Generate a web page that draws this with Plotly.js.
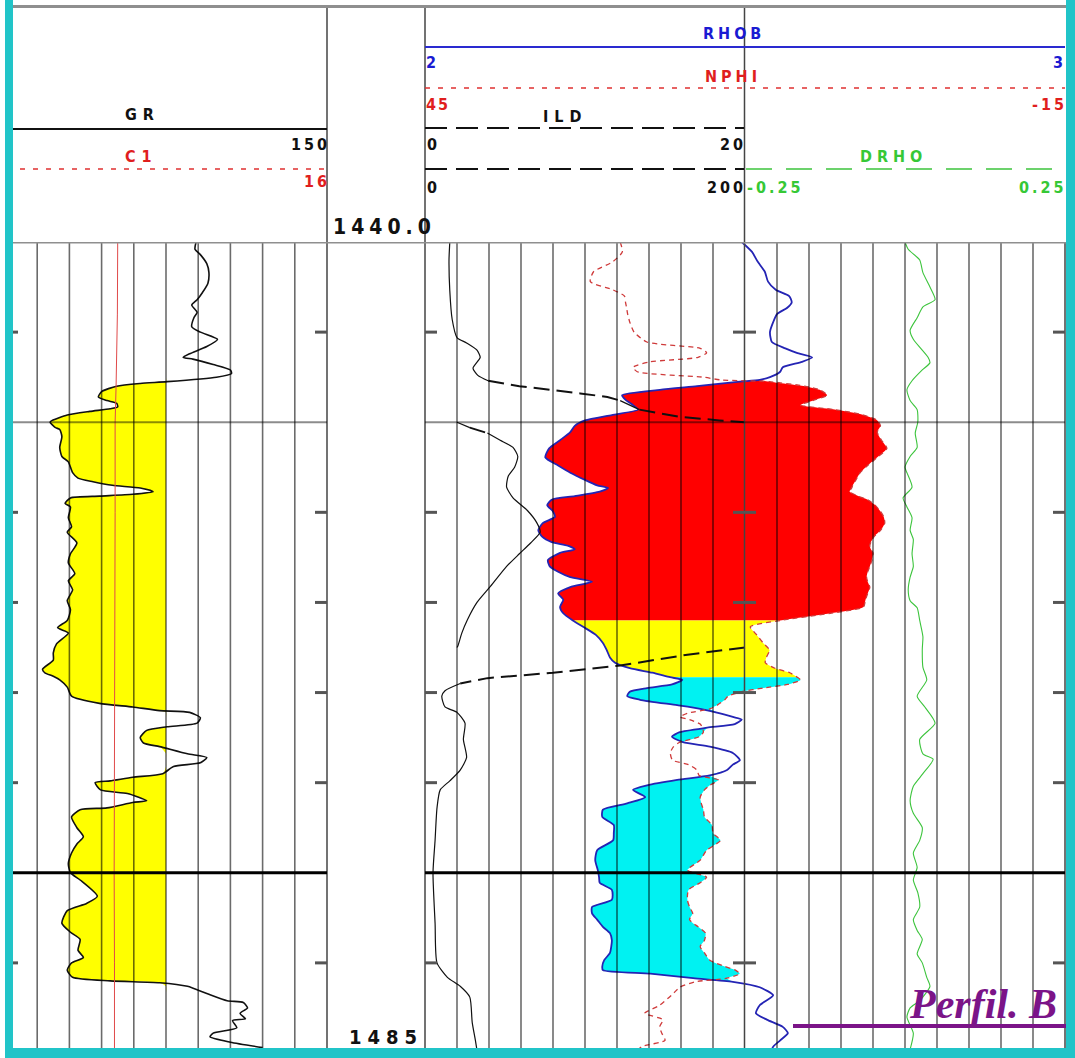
<!DOCTYPE html>
<html>
<head>
<meta charset="utf-8">
<script src="https://cdn.plot.ly/plotly-3.0.1.min.js"></script>
<style>
  html, body { margin: 0; padding: 0; background: #ffffff; }
  #wrap { position: relative; width: 1075px; height: 1058px; overflow: hidden; }
  #plot { position: absolute; left: 0; top: 0; width: 1075px; height: 1058px; }
  .frame { position: absolute; background: #21c4c8; }
</style>
</head>
<body>
<div id="wrap">
  <div id="plot"></div>
  <div class="frame" style="left:5px;top:0;width:8px;height:1058px"></div>
  <div class="frame" style="left:1066px;top:0;width:9px;height:1058px"></div>
  <div class="frame" style="left:5px;top:1048px;width:1070px;height:10px"></div>
</div>
<script>
// ---------------- log data (depth in m) ----------------
const DEPTH_RANGE = [1440, 1485];

// Gamma ray (API) and caliper (in)
const grDepth = [1440.0,1440.4,1440.7,1441.2,1441.7,1442.3,1442.8,1443.2,1443.5,1443.9,
  1444.2,1444.7,1445.0,1445.4,1445.8,1446.2,1446.4,1446.5,1446.8,1447.1,
  1447.3,1447.5,1447.75,1447.85,1448.0,1448.3,1448.6,1448.8,1448.95,1449.15,
  1449.25,1449.4,1449.6,1449.9,1450.0,1450.3,1450.4,1450.8,1451.4,1451.9,
  1452.2,1452.8,1453.1,1453.3,1453.5,1453.65,1453.85,1454.0,1454.1,1454.2,
  1454.5,1454.7,1455.3,1455.8,1456.1,1456.7,1457.3,1457.8,1458.4,1458.8,
  1459.3,1459.9,1460.4,1461.0,1461.4,1461.7,1462.3,1462.8,1463.2,1463.7,
  1463.9,1464.1,1464.3,1464.7,1465.2,1465.6,1465.8,1466.0,1466.1,1466.4,
  1466.7,1466.9,1467.1,1467.5,1467.8,1468.0,1468.4,1468.6,1468.9,1469.1,
  1469.5,1469.7,1469.9,1470.0,1470.4,1470.6,1471.0,1471.1,1471.4,1471.5,
  1471.9,1472.5,1473.0,1473.4,1473.9,1474.5,1475.0,1475.4,1476.3,1476.7,
  1477.1,1477.8,1478.3,1478.7,1479.3,1479.7,1480.0,1480.4,1480.8,1481.0,
  1481.1,1481.3,1481.7,1482.1,1482.2,1482.5,1482.8,1483.1,1483.2,1483.6,
  1483.9,1484.1,1484.4,1484.7];
const grValue = [89,88.5,91,94,95,94.5,92,89.5,87,89.5,
  88,87,91,99,94,86,83,87.5,97,105,
  105.5,98.5,75.5,63,52,45,43.5,47.5,52,52.5,
  49,39.5,29,22,21,23.5,25.5,26.5,25.5,26.5,
  29.5,31.5,34,41,50,63,69,59.5,44,30.5,
  28,30.5,29.5,31,29,33.5,30.5,29.5,32.5,29.5,
  31.5,29,30.5,29,24.5,29.5,24,22.5,22.5,17.5,
  18.5,22.5,25.5,29,31,44,59.5,72,86,91,
  89.5,75.5,66,63,64.5,72,85,94,91,78.5,
  73.5,59.5,49,42,44.5,57,66,59.5,47.5,35,
  31,33.5,36.5,33.5,31,29.5,30.5,35,43,38,
  29,26.5,30.5,35,34,36.5,31,29,31.5,49,
  72,85,94,103.5,111,113,109.5,112,106,108,
  97,95.5,105,120];
const GR_CUTOFF = 75;

const c1Depth = [1440,1444,1448,1450,1455,1460,1465,1470,1475,1480,1485];
const c1Value = [9.50,9.49,9.45,9.42,9.42,9.41,9.40,9.40,9.39,9.40,9.40];

// Deep induction resistivity (ohm.m)
const ildDepth = [1440.0,1441.0,1442.7,1444.3,1445.3,1445.6,1446.0,1446.4,1447.0,1447.4,
  1447.7,1448.0,1448.4,1448.6,1448.8,1449.3,1449.7,1449.9,1450.0,1450.3,
  1450.6,1451.0,1451.4,1451.9,1452.5,1453.0,1453.6,1454.2,1454.9,1455.6,
  1456.1,1456.7,1457.3,1458.0,1459.1,1460.0,1461.0,1461.7,1462.4,1462.5,
  1462.9,1463.5,1463.9,1464.2,1464.5,1464.9,1465.2,1465.8,1466.1,1466.7,
  1467.6,1468.6,1469.3,1469.9,1470.4,1471.4,1473.2,1475.0,1477.8,1480.0,
  1480.8,1481.3,1481.9,1483.3,1484.3,1484.85];
const ildValue = [1.55,1.5,1.55,1.7,2.0,2.6,3.25,3.45,3.0,3.3,
  3.95,5.9,9.7,11.4,12.2,13.4,15.9,18.4,20,28,
  39,47,55,58,56,52,51,55,64,70,
  72,66,59,51,41,32.5,26.3,23,20.6,20,
  16.4,12.2,8.0,3.9,2.2,1.25,1.05,1.25,2.0,2.5,
  2.4,2.6,2.2,1.55,0.95,0.75,0.63,0.5,0.63,0.75,
  1.4,2.2,2.8,2.95,3.15,3.25];

// Bulk density (g/cc) and neutron porosity (%) on a common depth set
const dnDepth = [1440.00,1440.55,1441.10,1441.65,1442.20,1442.65,1443.00,1443.35,1443.65,1444.00,
  1444.45,1445.00,1445.55,1445.90,1446.15,1446.40,1446.65,1446.95,1447.20,1447.50,
  1447.65,1447.75,1448.00,1448.20,1448.50,1448.75,1449.05,1449.30,1449.60,1449.90,
  1450.20,1450.55,1451.00,1451.45,1451.95,1452.40,1452.80,1453.20,1453.50,1453.65,
  1453.85,1454.10,1454.30,1454.60,1454.95,1455.25,1455.60,1456.00,1456.35,1456.65,
  1456.85,1457.05,1457.25,1457.65,1458.00,1458.30,1458.60,1458.85,1459.15,1459.50,
  1459.85,1460.25,1460.60,1461.00,1461.35,1461.80,1462.25,1462.65,1463.05,1463.35,
  1463.65,1463.90,1464.15,1464.30,1464.55,1464.75,1464.95,1465.20,1465.40,1465.70,
  1465.90,1466.15,1466.35,1466.50,1466.75,1466.95,1467.20,1467.45,1467.75,1468.00,
  1468.35,1468.75,1469.00,1469.30,1469.60,1469.85,1470.15,1470.40,1470.80,1471.15,
  1471.50,1471.90,1472.35,1472.80,1473.20,1473.75,1474.30,1474.85,1475.25,1475.55,
  1475.95,1476.50,1476.90,1477.25,1477.60,1478.00,1478.35,1478.75,1479.10,1479.45,
  1479.85,1480.20,1480.40,1480.60,1480.85,1481.05,1481.35,1481.80,1482.35,1482.80,
  1483.15,1483.55,1483.90,1484.30,1484.65,1485.00];
const rhobValue = [2.495,2.511,2.520,2.531,2.536,2.548,2.569,2.573,2.566,2.550,
  2.544,2.539,2.542,2.563,2.581,2.605,2.589,2.559,2.555,2.539,
  2.523,2.492,2.425,2.367,2.308,2.313,2.325,2.333,2.292,2.250,
  2.234,2.227,2.211,2.194,2.188,2.208,2.227,2.250,2.269,2.286,
  2.273,2.234,2.198,2.191,2.200,2.203,2.184,2.177,2.183,2.198,
  2.223,2.234,2.211,2.192,2.195,2.208,2.227,2.261,2.227,2.208,
  2.216,2.211,2.216,2.231,2.247,2.267,2.278,2.284,2.289,2.297,
  2.320,2.355,2.383,2.402,2.386,2.347,2.320,2.316,2.336,2.394,
  2.430,2.461,2.481,2.495,2.484,2.441,2.398,2.386,2.403,2.445,
  2.481,2.492,2.481,2.472,2.445,2.394,2.347,2.325,2.344,2.316,
  2.278,2.277,2.295,2.295,2.294,2.269,2.266,2.270,2.272,2.273,
  2.292,2.292,2.261,2.261,2.269,2.278,2.289,2.292,2.291,2.289,
  2.280,2.277,2.278,2.352,2.419,2.481,2.523,2.544,2.523,2.517,
  2.534,2.559,2.567,2.555,2.544,2.539];
const nphiValue = [26.7,26.5,27.4,29.2,29.5,27.4,26.3,26.2,26.1,26.0,
  25.8,25.4,24.2,19.2,18.6,19.4,23.9,25.5,25.1,18.9,
  17.3,12.7,9.4,8.0,7.3,8.4,9.8,6.6,3.9,2.6,
  2.3,2.6,2.2,1.7,2.6,3.5,4.2,4.6,4.9,5.0,
  5.2,4.4,3.5,2.8,2.3,2.0,1.9,2.3,2.9,3.2,
  3.3,3.2,3.0,3.1,3.3,3.5,3.6,3.5,3.3,3.5,
  3.7,3.9,7.0,11.7,14.5,13.9,13.3,12.7,13.0,13.1,
  12.2,10.8,10.1,9.8,11.0,13.3,15.3,16.6,16.9,17.6,
  18.3,20.4,21.1,20.2,19.2,19.0,18.9,19.3,21.1,21.7,
  22.0,21.8,20.3,19.5,19.3,17.5,18.3,18.8,19.2,19.1,
  18.9,18.8,18.1,18.0,17.3,18.6,19.2,20.4,18.6,19.2,
  20.3,20.4,20.2,19.9,20.2,19.4,18.7,18.8,19.2,18.8,
  18.3,16.9,15.9,15.5,16.7,19.7,21.1,21.9,23.0,24.4,
  22.7,23.0,22.8,22.5,24.7,25.3];

// Density correction (g/cc)
const drhoDepth = [1440.0,1440.4,1441.0,1441.7,1442.5,1443.2,1443.6,1444.2,1444.9,1445.4,
  1446.4,1446.7,1447.1,1447.7,1448.2,1448.8,1449.3,1450.0,1450.6,1451.4,
  1451.9,1452.5,1452.8,1453.6,1454.2,1454.7,1455.3,1456.0,1456.5,1457.3,
  1458.0,1458.6,1459.3,1459.9,1460.3,1461.0,1461.9,1462.6,1463.6,1464.3,
  1465.2,1465.8,1466.7,1467.6,1468.4,1468.7,1469.5,1470.2,1471.0,1471.7,
  1472.5,1473.2,1473.9,1474.7,1475.4,1476.1,1476.9,1477.6,1478.2,1478.7,
  1479.5,1480.0,1480.8,1481.3,1482.1,1482.5,1483.0,1483.9,1484.8];
const drhoValue = [0.0,0.005,0.023,0.028,0.039,0.047,0.028,0.019,0.008,0.013,
  0.036,0.039,0.027,0.011,0.003,0.008,0.019,0.020,0.016,0.019,
  0.008,0.0,0.003,0.011,-0.003,0.003,0.011,0.008,0.013,0.011,
  0.013,0.008,0.005,0.008,0.019,0.023,0.028,0.027,0.028,0.034,
  0.019,0.031,0.047,0.023,0.028,0.044,0.028,0.013,0.008,0.013,
  0.027,0.023,0.013,0.019,0.013,0.020,0.023,0.013,0.019,0.027,
  0.019,0.027,0.034,0.039,0.023,0.008,0.003,0.013,0.008];

// Density-neutron crossover intervals (gas / oil / water)
const zoneTop  = [1447.0, 1461.0, 1464.15];
const zoneBase = [1461.0, 1464.15, 1482.0];

// Scales as printed in the header
const GR_SCALE   = [0, 150];
const C1_SCALE   = [6, 16];
const RHOB_SCALE = [2, 3];
const NPHI_SCALE = [45, -15];
const ILD_SCALE  = [0, 20];
const ILD_BACKUP = [0, 200];
const DRHO_SCALE = [-0.25, 0.25];

// Depth marks
const tickDepths = [1445, 1455, 1460, 1465, 1470, 1480];
const lineDepths = [1450, 1475];

// ---------------- page geometry (pixels) ----------------
const W = 1075, H = 1058;
const px = x => x / W;
const py = y => 1 - y / H;
const LOG_TOP = 242, LOG_BASE = 1053;
const T1 = [5, 327], T23 = [425, 1065], MID = 745;
const pxPerMetre = (LOG_BASE - LOG_TOP) / (DEPTH_RANGE[1] - DEPTH_RANGE[0]);

// ---------------- traces ----------------
const traces = [];
const sp = { shape: 'spline', smoothing: 0.6 };

// GR shading below the cutoff
traces.push({ x: grDepth.map(() => GR_CUTOFF), y: grDepth, xaxis: 'x', yaxis: 'y',
  mode: 'lines', line: { width: 0 }, hoverinfo: 'skip' });
traces.push({ x: grValue.map(v => Math.min(v, GR_CUTOFF)), y: grDepth, xaxis: 'x', yaxis: 'y',
  mode: 'lines', fill: 'tonextx', fillcolor: '#ffff00', line: Object.assign({ width: 0 }, sp), hoverinfo: 'skip' });
traces.push({ x: grValue, y: grDepth, xaxis: 'x', yaxis: 'y', mode: 'lines',
  line: Object.assign({ color: '#111111', width: 1.6 }, sp) });
traces.push({ x: c1Value, y: c1Depth, xaxis: 'x2', yaxis: 'y', mode: 'lines',
  line: { color: '#e04a4a', width: 1 } });

// Crossover shading between density and neutron (neutron expressed on the density scale)
const nphiAsRhob = n => RHOB_SCALE[0] + (NPHI_SCALE[0] - n) / (NPHI_SCALE[0] - NPHI_SCALE[1]) * (RHOB_SCALE[1] - RHOB_SCALE[0]);
const zoneColor = ['#ff0000', '#ffff00', '#00f2f2'];
zoneTop.forEach((top, z) => {
  const idx = dnDepth.map((d, i) => i).filter(i => dnDepth[i] >= top - 1e-9 && dnDepth[i] <= zoneBase[z] + 1e-9);
  const ys = idx.map(i => dnDepth[i]);
  const left = idx.map(i => rhobValue[i]);
  const right = idx.map(i => Math.max(rhobValue[i], nphiAsRhob(nphiValue[i])));
  traces.push({ x: left, y: ys, xaxis: 'x3', yaxis: 'y', mode: 'lines', line: Object.assign({ width: 0 }, sp), hoverinfo: 'skip' });
  traces.push({ x: right, y: ys, xaxis: 'x3', yaxis: 'y', mode: 'lines', fill: 'tonextx',
    fillcolor: zoneColor[z], line: Object.assign({ width: 0 }, sp), hoverinfo: 'skip' });
});
traces.push({ x: rhobValue, y: dnDepth, xaxis: 'x3', yaxis: 'y', mode: 'lines',
  line: Object.assign({ color: '#2424b4', width: 1.8 }, sp) });
traces.push({ x: nphiValue, y: dnDepth, xaxis: 'x4', yaxis: 'y', mode: 'lines',
  line: Object.assign({ color: '#cf3a3a', width: 1.3, dash: '5px,4px' }, sp) });

// Resistivity: fast swings drawn dashed, slow runs solid; above 20 the backup scale takes over
function splitByRate(depth, vals, pxPerUnit, ratio) {
  const solid = { x: [], y: [] }, dash = { x: [], y: [] };
  let cur = null;
  for (let i = 0; i < depth.length - 1; i++) {
    const a = vals[i], b = vals[i + 1];
    if (a === null || b === null) {
      if (cur) { cur.x.push(null); cur.y.push(null); }
      cur = null; continue;
    }
    const steep = Math.abs((b - a) * pxPerUnit) > ratio * Math.abs((depth[i + 1] - depth[i]) * pxPerMetre);
    const tgt = steep ? dash : solid;
    if (tgt !== cur) {
      if (cur) { cur.x.push(null); cur.y.push(null); }
      tgt.x.push(a); tgt.y.push(depth[i]);
      cur = tgt;
    }
    tgt.x.push(b); tgt.y.push(depth[i + 1]);
  }
  return { solid, dash };
}
const ildTrackPx = MID - T23[0];
const ildPrimary = splitByRate(ildDepth, ildValue.map(v => v <= ILD_SCALE[1] ? v : null),
  ildTrackPx / (ILD_SCALE[1] - ILD_SCALE[0]), 2.5);
const ildBackup = splitByRate(ildDepth, ildValue.map(v => v >= ILD_SCALE[1] ? v : null),
  ildTrackPx / (ILD_BACKUP[1] - ILD_BACKUP[0]), 2.5);
[[ildPrimary, 'x5'], [ildBackup, 'x6']].forEach(([part, ax]) => {
  traces.push({ x: part.solid.x, y: part.solid.y, xaxis: ax, yaxis: 'y', mode: 'lines',
    connectgaps: false, line: Object.assign({ color: '#111111', width: 1.2 }, sp) });
  traces.push({ x: part.dash.x, y: part.dash.y, xaxis: ax, yaxis: 'y', mode: 'lines',
    connectgaps: false, line: { color: '#111111', width: 2, dash: '16px,7px' } });
});

traces.push({ x: drhoValue, y: drhoDepth, xaxis: 'x7', yaxis: 'y', mode: 'lines',
  line: Object.assign({ color: '#3cc43c', width: 1.1 }, sp) });

// ---------------- shapes ----------------
const shapes = [];
const seg = (x0, y0, x1, y1, color, width, dash) => ({ type: 'line', xref: 'paper', yref: 'paper',
  x0: px(x0), x1: px(x1), y0: py(y0), y1: py(y1), layer: 'above', line: { color, width, dash: dash || 'solid' } });

// vertical grid, ten divisions per track
const gridColor = 'rgba(0,0,0,0.58)';
for (let k = 1; k < 10; k++) {
  shapes.push({ type: 'line', xref: 'x', yref: 'y', x0: GR_SCALE[0] + k * (GR_SCALE[1] - GR_SCALE[0]) / 10,
    x1: GR_SCALE[0] + k * (GR_SCALE[1] - GR_SCALE[0]) / 10, y0: DEPTH_RANGE[0], y1: DEPTH_RANGE[1],
    layer: 'above', line: { color: gridColor, width: 1.6 } });
}
for (let k = 1; k < 20; k++) {
  if (k === 10) continue;
  const v = RHOB_SCALE[0] + k * (RHOB_SCALE[1] - RHOB_SCALE[0]) / 20;
  shapes.push({ type: 'line', xref: 'x3', yref: 'y', x0: v, x1: v, y0: DEPTH_RANGE[0], y1: DEPTH_RANGE[1],
    layer: 'above', line: { color: gridColor, width: 1.6 } });
}
// track borders
shapes.push(seg(327, 8, 327, LOG_BASE, '#444444', 1.5));
shapes.push(seg(425, 8, 425, LOG_BASE, '#444444', 1.5));
shapes.push(seg(744.5, 8, 744.5, LOG_BASE, '#444444', 1.5));
shapes.push(seg(1065, LOG_TOP, 1065, LOG_BASE, '#444444', 1.5));
// top frame lines
shapes.push(seg(5, 6.5, 1066, 6.5, '#8f8f8f', 3));
shapes.push({ type: 'line', xref: 'paper', yref: 'y', x0: px(5), x1: px(1066), y0: DEPTH_RANGE[0], y1: DEPTH_RANGE[0],
  layer: 'above', line: { color: '#8f8f8f', width: 3 } });
// depth lines
const lineStyle = [{ color: 'rgba(0,0,0,0.45)', width: 2 }, { color: '#000000', width: 3 }];
lineDepths.forEach((d, j) => {
  [[T1[0], T1[1]], [T23[0], T23[1]]].forEach(([a, b]) => {
    shapes.push({ type: 'line', xref: 'paper', yref: 'y', x0: px(a), x1: px(b), y0: d, y1: d,
      layer: 'above', line: lineStyle[j] });
  });
});
// depth ticks on track edges
const tickSpans = [[5, 18], [315, 327], [425, 437], [733, 756], [1053, 1065]];
tickDepths.forEach(d => {
  tickSpans.forEach(([a, b]) => {
    shapes.push({ type: 'line', xref: 'paper', yref: 'y', x0: px(a), x1: px(b), y0: d, y1: d,
      layer: 'above', line: { color: '#555555', width: 3 } });
  });
});
// header scale lines
shapes.push(seg(13, 129, 327, 129, '#111111', 2));
shapes.push(seg(20, 169, 327, 169, '#e03030', 1.5, '5px,8px'));
shapes.push(seg(425, 47, 1065, 47, '#2a2ad0', 2));
shapes.push(seg(425, 88, 1065, 88, '#e03030', 1.5, '5px,8px'));
shapes.push(seg(425, 128, 744, 128, '#111111', 2, '22px,9px'));
shapes.push(seg(425, 169, 744, 169, '#111111', 2, '22px,9px'));
shapes.push(seg(746, 169, 1065, 169, '#3cc43c', 1.5, '26px,14px'));
// title underline
shapes.push(seg(793, 1026, 1075, 1026, '#7b1488', 4));

// ---------------- header text ----------------
const HFONT = 'Liberation Sans Narrow, DejaVu Sans Condensed, Arial Narrow, DejaVu Sans, sans-serif';
const lab = (text, x, y, color, anchor, size, spacing) => ({
  text: '<span style="letter-spacing:' + spacing + 'px">' + text + '</span>',
  x: px(x), y: py(y), xref: 'paper', yref: 'paper', showarrow: false,
  xanchor: anchor, yanchor: 'middle',
  font: { family: HFONT, size: size, color: color, weight: 700 }
});
const BLK = '#111111', RED = '#e01e1e', BLU = '#1a1ad2', GRN = '#36c836';
const annotations = [
  lab('GR', 142, 114, BLK, 'center', 16, 6),
  lab('150', 332, 145, BLK, 'right', 16, 3),
  lab('C1', 141, 157, RED, 'center', 16, 6),
  lab('16', 332, 182, RED, 'right', 16, 3),
  lab('RHOB', 734, 34, BLU, 'center', 16, 4),
  lab('2', 424, 62, BLU, 'left', 16, 0),
  lab('3', 1069, 62, BLU, 'right', 16, 4),
  lab('NPHI', 733, 76, RED, 'center', 16, 4),
  lab('45', 424, 104, RED, 'left', 16, 2),
  lab('-15', 1069, 104, RED, 'right', 16, 3),
  lab('ILD', 565, 116, BLK, 'center', 16, 6),
  lab('0', 425, 145, BLK, 'left', 16, 0),
  lab('20', 748, 145, BLK, 'right', 16, 3),
  lab('0', 425, 187, BLK, 'left', 16, 0),
  lab('200', 748, 187, BLK, 'right', 16, 3),
  lab('DRHO', 893, 157, GRN, 'center', 16, 5),
  lab('-0.25', 745, 187, GRN, 'left', 16, 3),
  lab('0.25', 1069, 187, GRN, 'right', 16, 3),
  lab('1440.0', 331, 227, BLK, 'left', 21, 5),
  lab('1485', 347, 1037, BLK, 'left', 20, 6),
  { text: '<b><i>Perfil. B</i></b>', x: px(907), y: py(1004), xref: 'paper', yref: 'paper',
    showarrow: false, xanchor: 'left', yanchor: 'middle',
    font: { family: 'Liberation Serif, DejaVu Serif, serif', size: 42, color: '#7b1488' } }
];

// ---------------- axes ----------------
const hidden = { visible: false, fixedrange: true, showgrid: false, zeroline: false };
const layout = {
  width: W, height: H,
  margin: { l: 0, r: 0, t: 0, b: 0 },
  paper_bgcolor: '#ffffff', plot_bgcolor: 'rgba(0,0,0,0)',
  showlegend: false, hovermode: false,
  yaxis: Object.assign({ domain: [py(LOG_BASE), py(LOG_TOP)], range: [DEPTH_RANGE[1], DEPTH_RANGE[0]], anchor: 'x' }, hidden),
  xaxis: Object.assign({ domain: [px(T1[0]), px(T1[1])], range: GR_SCALE, anchor: 'y' }, hidden),
  xaxis2: Object.assign({ overlaying: 'x', range: C1_SCALE, anchor: 'y' }, hidden),
  xaxis3: Object.assign({ domain: [px(T23[0]), px(T23[1])], range: RHOB_SCALE, anchor: 'y' }, hidden),
  xaxis4: Object.assign({ overlaying: 'x3', range: NPHI_SCALE, anchor: 'y' }, hidden),
  // resistivity occupies the left half of the shared width, DRHO the right half
  xaxis5: Object.assign({ overlaying: 'x3', range: [ILD_SCALE[0], ILD_SCALE[0] + 2 * (ILD_SCALE[1] - ILD_SCALE[0])], anchor: 'y' }, hidden),
  xaxis6: Object.assign({ overlaying: 'x3', range: [ILD_BACKUP[0], ILD_BACKUP[0] + 2 * (ILD_BACKUP[1] - ILD_BACKUP[0])], anchor: 'y' }, hidden),
  xaxis7: Object.assign({ overlaying: 'x3', range: [DRHO_SCALE[0] - (DRHO_SCALE[1] - DRHO_SCALE[0]), DRHO_SCALE[1]], anchor: 'y' }, hidden),
  shapes: shapes,
  annotations: annotations
};

Plotly.newPlot('plot', traces, layout, { staticPlot: true, displayModeBar: false });
</script>
</body>
</html>
